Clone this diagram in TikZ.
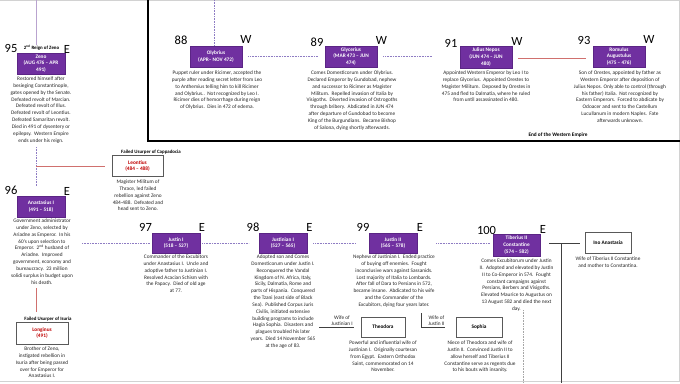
\documentclass[tikz,border=0pt]{standalone}
\usepackage{fontspec}
\setmainfont{Carlito}
\definecolor{empFill}{HTML}{7030A0}
\definecolor{empBorder}{HTML}{5B2585}
\definecolor{lav}{HTML}{B9A3CF}
\definecolor{dotpurple}{HTML}{8E7CC3}
\definecolor{redline}{HTML}{D0706E}
\definecolor{usred}{HTML}{C00000}
\definecolor{txt}{HTML}{262626}
\tikzset{
 emp/.style={draw=empBorder, line width=0.6pt, fill=empFill, text=white, font=\bfseries\fontsize{5.3}{6.6}\selectfont, align=center, inner sep=0pt, minimum width=48pt, minimum height=21pt},
 usurp/.style={draw=black!65, line width=0.7pt, fill=white, text=usred, font=\bfseries\fontsize{5.3}{6.6}\selectfont, align=center, inner sep=0pt, minimum width=51pt, minimum height=21pt},
 wifebox/.style={draw=black!65, line width=0.7pt, fill=white, text=black, font=\bfseries\fontsize{5.3}{6.6}\selectfont, align=center, inner sep=0pt, minimum width=44pt, minimum height=20pt},
 desc/.style={align=center, inner sep=0pt, anchor=north, text=txt, font=\fontsize{5.3}{6.85}\selectfont},
 wlab/.style={align=center, inner sep=0pt, text=txt, font=\fontsize{5.3}{6.4}\selectfont},
 num/.style={inner sep=0pt, font=\fontsize{12.5}{13}\selectfont, text=black},
 lbl/.style={inner sep=0pt, font=\bfseries\fontsize{4.9}{6}\selectfont, text=black},
 dotl/.style={dotpurple, line width=0.6pt, dash pattern=on 0.6pt off 1pt},
 redl/.style={redline, line width=0.8pt},
 lavl/.style={lav, line width=1pt},
 conn/.style={black!75, line width=0.6pt},
}
\begin{document}
\begin{tikzpicture}[x=1pt,y=-1pt]
\useasboundingbox (0,0) rectangle (680,383);
\fill[white] (0,0) rectangle (680,383);
\draw[gray!35, line width=0.6pt] (0,0.5) -- (679.2,0.5) -- (679.2,381) -- (0,381);

% frame of western section
\coordinate (f1) at (148,0);
\coordinate (f2) at (148,141);
\coordinate (f3) at (680,141);
\draw[black, line width=1.3pt] (f1) -- (f2) -- (f3);

% ===== Eastern column: Zeno =====
\node[num] (n95) at (11,48) {95};
\node[lbl] (reign2) at (41.5,48) {2\textsuperscript{nd} Reign of Zeno};
\node[num] (e95) at (67,49) {E};
\node[emp] (zeno) at (41,63.5) {Zeno\\(AUG 476 – APR\\491)};
\node[desc] (zdesc) at (41,76.6) {Restored himself after\\besieging Constantinople,\\gates opened by the Senate.\\Defeated revolt of Marcian.\\Defeated revolt of Illus.\\Defeated revolt of Leontius.\\Defeated Samaritan revolt.\\Died in 491 of dysentery or\\epilepsy.\ \ Western Empire\\ends under his reign.};
\coordinate (t0) at (36,0);
\draw[lavl] (t0) -- (t0 |- reign2.north);

% Leontius
\node[lbl] (cap) at (151,152) {Failed Usurper of Cappadocia};
\node[usurp] (leon) at (137.5,166) {Leontius\\(484 – 488)};
\node[desc] (ldesc) at (138,179.6) {Magister Militum of\\Thrace, led failed\\rebellion against Zeno\\484-488.\ \ Defeated and\\head sent to Zeno.};

% Anastasius
\node[num] (n96) at (11,190) {96};
\node[num] (e96) at (67,191) {E};
\node[emp] (anast) at (41,206.5) {Anastasius I\\(491 – 518)};
\node[desc] (adesc) at (42,218.6) {Government administrator\\under Zeno, selected by\\Ariadne as Emperor.\ \ In his\\60's upon selection to\\Emperor.\ \ 2\textsuperscript{nd} husband of\\Ariadne.\ \ Improved\\government, economy and\\bureaucracy.\ \ 23 million\\solidi surplus in budget upon\\his death.};

\coordinate (zd) at (36,147);
\draw[dotl, shorten >=9pt] (zd) -- (zd |- anast.north);
\coordinate (lj) at (36,166);
\draw[redl, shorten >=7pt] (lj) -- (leon.west);

% Longinus
\node[lbl] (isu) at (48,319) {Failed Usurper of Isuria};
\node[usurp, minimum width=52pt, minimum height=22pt] (long) at (42,333) {Longinus\\(491)};
\node[desc] (lodesc) at (42,346.6) {Brother of Zeno,\\instigated rebellion in\\Isuria after being passed\\over for Emperor for\\Anastasius I.};
\coordinate (ad2) at (36,288);
\draw[redl, shorten >=10pt] (ad2) -- (ad2 |- long.north);

% Justin I
\node[num] (n97) at (145.5,227) {97};
\node[num] (e97) at (202,227) {E};
\node[emp, minimum height=20pt] (j1) at (176,243) {Justin I\\(518 – 527)};
\node[desc] (j1desc) at (176,254.6) {Commander of the Excubitors\\under Anastasius I.\ \ Uncle and\\adoptive father to Justinian I.\\Resolved Acacian Schism with\\the Papacy.\ \ Died of old age\\at 77.};
\coordinate (ad) at (82,243);
\draw[dotl, shorten >=2pt] (ad) -- (j1.west);

% Justinian I
\node[num] (n98) at (253,227) {98};
\node[num] (e98) at (309.5,227) {E};
\node[emp, minimum height=20pt] (jn) at (283,243) {Justinian I\\(527 – 565)};
\node[desc] (jndesc) at (283,254.6) {Adopted son and Comes\\Domesticorum under Justin I.\\Reconquered the Vandal\\Kingdom of N. Africa, Italy,\\Sicily, Dalmatia, Rome and\\parts of Hispania.\ \ Conquered\\the Tzani (east side of Black\\Sea).\ \ Published Corpus Juris\\Civilis, initiated extensive\\building programs to include\\Hagia Sophia.\ \ Disasters and\\plagues troubled his later\\years.\ \ Died 14 November 565\\at the age of 83.};
\draw[dotl, shorten <=2pt, shorten >=10pt] (j1.east) -- (jn.west);

% Justin II
\node[num] (n99) at (363,227) {99};
\node[num] (e99) at (420,227) {E};
\node[emp, minimum height=20pt] (j2) at (393,243) {Justin II\\(565 – 578)};
\node[desc] (j2desc) at (394,254.6) {Nephew of Justinian I.\ \ Ended practice\\of buying off enemies.\ \ Fought\\inconclusive wars against Sassanids.\\Lost majority of Italia to Lombards.\\After fall of Dara to Persians in 572,\\became insane.\ \ Abdicated to his wife\\and the Commander of the\\Excubitors, dying four years later.};
\draw[dotl, shorten <=6pt, shorten >=13pt] (jn.east) -- (j2.west);

% Theodora
\node[wifebox] (theo) at (383,327) {Theodora};
\node[wlab, anchor=south] (wl1) at (342,326) {Wife of\\Justinian I};
\node[desc] (thdesc) at (383,340.6) {Powerful and influential wife of\\Justinian I.\ \ Originally courtesan\\from Egypt.\ \ Eastern Orthodox\\Saint, commemorated on 14\\November.};
\coordinate (tw) at (319,327);
\draw[conn, shorten >=7pt] (tw) -- (theo.west);

% Sophia
\node[wifebox, minimum width=46pt] (soph) at (479,327) {Sophia};
\node[wlab, anchor=south] (wl2) at (436.5,326) {Wife of\\Justin II};
\node[desc] (sodesc) at (480,340.6) {Niece of Theodora and wife of\\Justin II.\ \ Convinced Justin II to\\allow herself and Tiberius II\\Constantine serve as regents due\\to his bouts with insanity.};
\coordinate (sw) at (421,313);
\draw[conn, shorten >=11pt] (sw) -- (sw |- soph.west) -- (soph.west);

% Tiberius II
\node[num] (n100) at (486.5,230) {100};
\node[num] (e100) at (543,229) {E};
\node[emp, minimum width=47pt, minimum height=22pt] (tib) at (516.5,245) {Tiberius II\\Constantine\\(574 – 582)};
\node[desc] (tbdesc) at (516.5,258.6) {Comes Excubitorum under Justin\\II.\ \ Adopted and elevated by Justin\\II to Co-Emperor in 574.\ \ Fought\\constant campaigns against\\Persians, Berbers and Visigoths.\\Elevated Maurice to Augustus on\\13 August 582 and died the next\\day.};
\draw[dotl, shorten <=19pt, shorten >=3pt] (j2.east) -- (j2.east -| tib.west);
\coordinate (td) at (523,310);
\coordinate (tdb) at (523,383);
\draw[gray!70, line width=0.6pt, dash pattern=on 0.6pt off 1pt] (td) -- (tdb);

% Ino Anastasia
\node[wifebox, minimum width=46pt, minimum height=21pt] (ino) at (608,243) {Ino Anastasia};
\node[desc] (indesc) at (608,256.6) {Wife of Tiberius II Constantine\\and mother to Constantina.};
\coordinate (iw) at (549,243);
\draw[conn, line width=0.8pt, shorten >=5pt] (iw) -- (ino.west);
\coordinate (iv) at (561,243);
\coordinate (ivb) at (561,383);
\draw[conn, line width=0.8pt] (iv) -- (ivb);

% ===== Western row =====
\node[num] (n88) at (181,40) {88};
\node[num] (w88) at (246,39) {W};
\node[emp, minimum width=52pt] (oly) at (216,56.5) {Olybrius\\(APR– NOV 472)};
\node[desc] (odesc) at (217,70.6) {Puppet ruler under Ricimer, accepted the\\purple after reading secret letter from Leo\\to Anthemius telling him to kill Ricimer\\and Olybrius..\ \ Not recognized by Leo I.\\Ricimer dies of hemorrhage during reign\\of Olybrius.\ \ Dies in 472 of edema.};
\coordinate (ot) at (214,0);
\draw[dotl] (ot) -- (ot |- oly.north);

\node[num] (n89) at (317,42) {89};
\node[num] (w89) at (381.5,40) {W};
\node[emp, minimum width=52pt] (gly) at (351,56.5) {Glycerius\\(MAR 473 – JUN\\474)};
\node[desc] (gdesc) at (352,70.6) {Comes Domesticorum under Olybrius.\\Declared Emperor by Gundobad, nephew\\and successor to Ricimer as Magister\\Militum.\ \ Repelled invasion of Italia by\\Visigoths.\ \ Diverted invasion of Ostrogoths\\through bribery.\ \ Abdicated in JUN 474\\after departure of Gundobad to become\\King of the Burgundians.\ \ Became Bishop\\of Salona, dying shortly afterwards.};
\draw[dotl, shorten <=6pt, shorten >=7pt] (oly.east) -- (gly.west);

\node[num] (n91) at (451,43) {91};
\node[num] (w91) at (517,41) {W};
\node[emp, minimum width=52pt, minimum height=22pt] (nep) at (486,57) {Julius Nepos\\(JUN 474 – JUN\\480)};
\node[desc] (ndesc) at (486,70.6) {Appointed Western Emperor by Leo I to\\replace Glycerius.\ \ Appointed Orestes to\\Magister Militum.\ \ Deposed by Orestes in\\475 and fled to Dalmatia, where he ruled\\from until assassinated in 480.};
\draw[dotl, shorten <=6pt, shorten >=27pt] (gly.east) -- (gly.east -| nep.west);

\node[num] (n93) at (584,40) {93};
\node[num] (w93) at (649,39) {W};
\node[emp, minimum width=52pt] (rom) at (619,56.5) {Romulus\\Augustulus\\(475 – 476)};
\node[desc] (rdesc) at (620,70.6) {Son of Orestes, appointed by father as\\Western Emperor after deposition of\\Julius Nepos. Only able to control (through\\his father) Italia.\ \ Not recognized by\\Eastern Emperors.\ \ Forced to abdicate by\\Odoacer and sent to the Castellum\\Lucullanum in modern Naples.\ \ Fate\\afterwards unknown.};
\draw[redl, shorten <=6pt, shorten >=7pt] ([yshift=-1.5pt]nep.east) -- ([yshift=-1.5pt]nep.east -| rom.west);

\node[lbl, font=\bfseries\fontsize{5.3}{6}\selectfont] (endw) at (558,135) {End of the Western Empire};
\end{tikzpicture}
\end{document}
